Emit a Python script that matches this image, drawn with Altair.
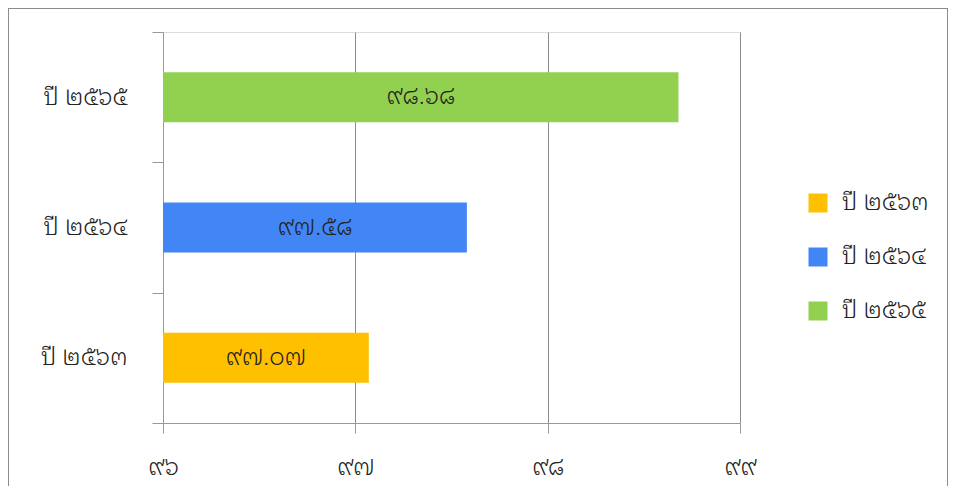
import altair as alt
import pandas as pd

years = ["ปี ๒๕๖๓", "ปี ๒๕๖๔", "ปี ๒๕๖๕"]
values = [97.07, 97.58, 98.68]
value_labels = ["๙๗.๐๗", "๙๗.๕๘", "๙๘.๖๘"]
colors = ["#FFC000", "#4285F4", "#92D050"]
x_ticks = [96, 97, 98, 99]
x_tick_labels = ["๙๖", "๙๗", "๙๘", "๙๙"]
x_min, x_max = 96, 99

FONT = "Noto Sans Thai Looped"
FS = 24
FW = 300

df = pd.DataFrame({"year": years, "value": values, "label": value_labels})

label_expr = " : ".join(
    f"datum.value == {v} ? '{t}'" for v, t in zip(x_ticks, x_tick_labels)
) + " : ''"

y_sort = list(reversed(years))

y_enc = alt.Y(
    "year:N",
    sort=y_sort,
    scale=alt.Scale(paddingInner=0, paddingOuter=0),
    axis=alt.Axis(
        title=None, tickBand="extent", tickSize=11, tickColor="#999999",
        domainColor="#999999", labelFontSize=FS, labelColor="#222222",
        labelFontWeight=FW, labelPadding=25, labelFont=FONT, grid=False,
    ),
)

x_scale = alt.Scale(domain=[x_min, x_max], zero=False, nice=False)

base = alt.Chart(df).transform_calculate(
    base=f"{x_min}",
    mid=f"({x_min} + datum.value) / 2",
)

bars = base.mark_bar(size=50).encode(
    x=alt.X(
        "value:Q", scale=x_scale,
        axis=alt.Axis(
            title=None, values=x_ticks, labelExpr=label_expr, grid=True,
            gridColor="#8c8c8c", tickSize=10, tickColor="#999999",
            domainColor="#999999", labelFontSize=FS, labelColor="#222222",
            labelFontWeight=FW, labelPadding=22, labelFont=FONT,
            labelFlush=False,
        ),
    ),
    x2="base:Q",
    y=y_enc,
    color=alt.Color(
        "year:N",
        scale=alt.Scale(domain=years, range=colors),
        legend=alt.Legend(
            title=None, orient="none", legendX=643, legendY=159,
            symbolType="square", symbolSize=361, symbolStrokeWidth=0,
            labelFontSize=FS, labelFont=FONT, labelColor="#222222",
            labelFontWeight=FW, rowPadding=30, labelOffset=12,
        ),
    ),
)

texts = base.mark_text(
    fontSize=FS, font=FONT, fontWeight=FW, color="#222222"
).encode(
    x=alt.X("mid:Q", scale=x_scale),
    y=alt.Y("year:N", sort=y_sort),
    text="label:N",
)

frame = alt.Chart(df).mark_rect(
    fill=None, stroke="#8c8c8c", strokeWidth=1
).encode(
    x=alt.value(-154.5), x2=alt.value(784.5),
    y=alt.value(-23.5), y2=alt.value(470),
)

chart = alt.layer(frame, bars, texts).properties(
    width=577, height=391,
    autosize=alt.AutoSizeParams(type="none"),
    padding={"left": 155, "top": 24, "right": 208, "bottom": 63},
).configure_view(stroke=None).configure(background="white")

chart.save("out.html", embed_options={"renderer": "svg", "actions": False})
